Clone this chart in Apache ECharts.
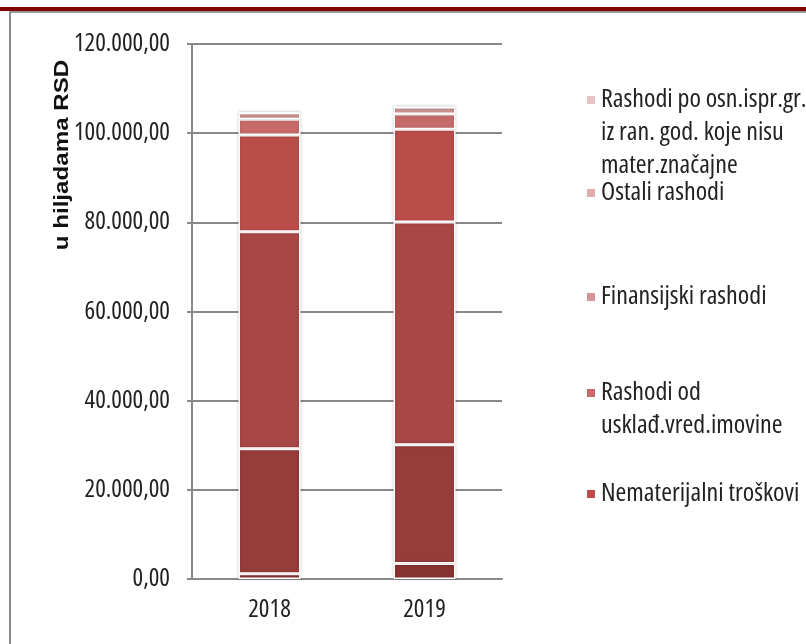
<!DOCTYPE html>
<html>
<head>
<meta charset="utf-8">
<script src="https://cdn.jsdelivr.net/npm/echarts@6/dist/echarts.min.js"></script>
<style>
html,body{margin:0;padding:0;background:#fff;}
#chart{width:806px;height:644px;}
</style>
</head>
<body>
<div id="chart"></div>
<script>
// ---- data ----
const categories = ['2018', '2019'];
const seriesNames = [
  'Troškovi materijala',
  'Troškovi zarada',
  'Troškovi proizvodnih usluga',
  'Nematerijalni troškovi',
  'Rashodi od\nusklađ.vred.imovine',
  'Finansijski rashodi',
  'Ostali rashodi',
  'Rashodi po osn.ispr.gr.\niz ran. god. koje nisu\nmater.značajne'
];
const values = [
  [1200, 3500],
  [28000, 26600],
  [48700, 50000],
  [21700, 20800],
  [3500, 3400],
  [1400, 1500],
  [0, 0],
  [0, 0]
];
const legendShown = [7, 6, 5, 4, 3]; // series listed in the legend, top to bottom
const yTicks = { min: 0, max: 120000, interval: 20000 };
const axisTitle = 'u hiljadama RSD';

// ---- styles ----
const palette = ['#863231', '#963C3B', '#A84745', '#BA4D4A', '#C66B6A', '#D49594', '#DDAEAE', '#E6C4C4'];
const legendIconCenters = [100, 193, 297, 393, 494];
const FONT = "'Open Sans','DejaVu Sans Condensed',sans-serif";
const STRETCH = 'condensed';
const LH = 33;

function fmt(v) {
  const s = Math.round(v).toString().replace(/\B(?=(\d{3})+(?!\d))/g, '.');
  return s + ',00';
}

const series = seriesNames.map((n, i) => ({
  name: n,
  type: 'bar',
  stack: 'total',
  barWidth: '40%',
  data: values[i],
  itemStyle: {
    color: palette[i],
    borderColor: '#ffffff',
    borderWidth: 1.5,
    shadowColor: 'rgba(0,0,0,0.18)',
    shadowBlur: 3
  },
  emphasis: { disabled: true }
}));

const legends = legendShown.map((si, k) => {
  const name = seriesNames[si];
  const lines = name.split('\n').length;
  const boxH = LH * (2 * lines - 1);
  return {
    left: 585,
    top: legendIconCenters[k] - boxH / 2,
    padding: 0,
    orient: 'vertical',
    selectedMode: false,
    itemWidth: 10,
    itemHeight: 10,
    itemGap: 0,
    icon: 'rect',
    data: [name],
    formatter: (n) => '\n'.repeat(lines - 1) + n,
    textStyle: {
      fontFamily: FONT,
      fontStyle: STRETCH,
      fontSize: 26,
      color: '#222',
      lineHeight: LH
    }
  };
});

const chart = echarts.init(document.getElementById('chart'), null, { renderer: 'canvas' });
chart.setOption({
  animation: false,
  backgroundColor: '#ffffff',
  color: palette,
  grid: { left: 192, right: 304, top: 44, bottom: 65, containLabel: false },
  legend: legends,
  xAxis: {
    type: 'category',
    data: categories,
    axisLine: { show: true, lineStyle: { color: '#888', width: 2 } },
    axisTick: { show: false },
    axisLabel: { fontFamily: FONT, fontStyle: STRETCH, fontSize: 25, color: '#222', margin: 18 }
  },
  yAxis: {
    type: 'value',
    min: yTicks.min,
    max: yTicks.max,
    interval: yTicks.interval,
    axisLine: { show: true, lineStyle: { color: '#888', width: 2 } },
    axisTick: { show: true, length: 5, lineStyle: { color: '#888', width: 2 } },
    splitLine: { show: true, lineStyle: { color: '#888', width: 2 } },
    axisLabel: { fontFamily: FONT, fontStyle: STRETCH, fontSize: 25, color: '#222', margin: 22, formatter: fmt }
  },
  series: series,
  graphic: [
    { type: 'rect', left: 0, top: 7, shape: { width: 806, height: 4 }, style: { fill: '#800000' }, silent: true },
    { type: 'line', shape: { x1: 9, y1: 12, x2: 806, y2: 12 }, style: { stroke: '#999', lineWidth: 2 }, silent: true },
    { type: 'line', shape: { x1: 10, y1: 12, x2: 10, y2: 644 }, style: { stroke: '#8c8c8c', lineWidth: 2 }, silent: true },
    {
      type: 'text',
      x: 62, y: 155,
      rotation: Math.PI / 2,
      scaleX: 1.15,
      style: {
        text: axisTitle,
        font: "bold 21px 'Liberation Sans', Arial, sans-serif",
        fill: '#111',
        align: 'center',
        verticalAlign: 'middle'
      },
      silent: true
    }
  ]
});
</script>
</body>
</html>
